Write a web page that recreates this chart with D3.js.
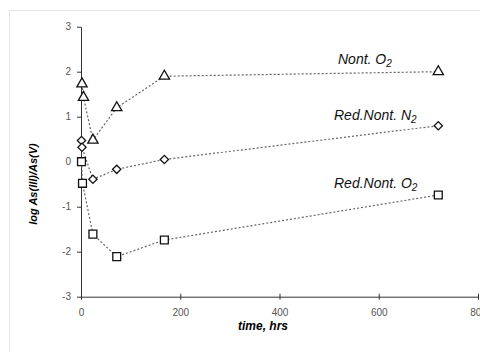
<!DOCTYPE html>
<html><head><meta charset="utf-8">
<script src="https://cdn.jsdelivr.net/npm/d3@7"></script>
<style>body{margin:0;background:#fff}svg{display:block}</style>
</head><body><svg id="c" width="480" height="352"></svg>
<script>
const xTicks = [0, 200, 400, 600, 800];
const yTicks = [-3, -2, -1, 0, 1, 2, 3];
const nontO2_t = [2, 5, 24, 72, 168, 720];
const nontO2_v = [1.73, 1.43, 0.48, 1.2, 1.9, 2.0];
const redN2_t = [1, 2, 24, 72, 168, 720];
const redN2_v = [0.47, 0.32, -0.39, -0.17, 0.05, 0.8];
const redO2_t = [1, 3, 24, 72, 168, 720];
const redO2_v = [0.0, -0.48, -1.61, -2.11, -1.74, -0.74];
const seriesNames = ["Nont. O", "Red.Nont. N", "Red.Nont. O"];
const seriesSubs = ["2", "2", "2"];

const svg = d3.select("#c");
const x = d3.scaleLinear().domain([0, 800]).range([81, 478]);
const y = d3.scaleLinear().domain([-3, 3]).range([296.7, 26.7]);

// frame
svg.append("path").attr("d", "M9.5,352 L9.5,10.5 L480,10.5").attr("fill", "none").attr("stroke", "#e4e4e4").attr("stroke-width", 1);

// axes
const gx = svg.append("g").attr("transform", `translate(0,${y(-3)})`)
  .call(d3.axisBottom(x).tickValues(xTicks).tickFormat(d => String(d)).tickSize(0).tickPadding(12));
gx.select(".domain").attr("stroke", "#333");
gx.selectAll(".tick").append("line").attr("y1", -3).attr("y2", 3).attr("stroke", "#333");
gx.selectAll("text").attr("font-family", "Liberation Sans, Arial, sans-serif").attr("font-size", 10).attr("fill", "#555");

const gy = svg.append("g").attr("transform", `translate(${x(0)},0)`)
  .call(d3.axisLeft(y).tickValues(yTicks).tickFormat(d => String(d)).tickSize(4).tickSizeOuter(0).tickPadding(6));
gy.select(".domain").attr("stroke", "#333");
gy.selectAll(".tick line").attr("stroke", "#333");
gy.selectAll("text").attr("font-family", "Liberation Sans, Arial, sans-serif").attr("font-size", 10).attr("fill", "#555");

// titles
svg.append("text").attr("x", 263).attr("y", 330).attr("text-anchor", "middle")
  .attr("font-family", "Liberation Sans, Arial, sans-serif").attr("font-size", 12).attr("font-weight", "bold").attr("font-style", "italic")
  .text("time, hrs");
svg.append("text").attr("transform", "translate(37,184) rotate(-90)").attr("text-anchor", "middle")
  .attr("font-family", "Liberation Sans, Arial, sans-serif").attr("font-size", 11).attr("font-weight", "bold").attr("font-style", "italic")
  .text("log As(III)/As(V)");

const series = [
  {t: nontO2_t, v: nontO2_v, sym: d3.symbolTriangle, size: 46, rot: 0},
  {t: redN2_t, v: redN2_v, sym: d3.symbolSquare, size: 34, rot: 45},
  {t: redO2_t, v: redO2_v, sym: d3.symbolSquare, size: 62, rot: 0}
];
const line = d3.line().x(d => x(d[0])).y(d => y(d[1]));
series.forEach(s => {
  const pts = s.t.map((t, i) => [t, s.v[i]]);
  svg.append("path").attr("d", line(pts)).attr("fill", "none").attr("stroke", "#666")
    .attr("stroke-width", 1.2).attr("stroke-dasharray", "2,2");
});
series.forEach(s => {
  const pts = s.t.map((t, i) => [t, s.v[i]]);
  svg.selectAll(null).data(pts).enter().append("path")
    .attr("d", d3.symbol().type(s.sym).size(s.size))
    .attr("transform", d => `translate(${x(d[0])},${y(d[1])}) rotate(${s.rot})`)
    .attr("fill", "#fff").attr("stroke", "#111").attr("stroke-width", 1.3);
});

// annotations
const ann = [[338, 64], [334, 120], [334, 188]];
seriesNames.forEach((n, i) => {
  const t = svg.append("text").attr("x", ann[i][0]).attr("y", ann[i][1])
    .attr("font-family", "Liberation Sans, Arial, sans-serif").attr("font-size", 14).attr("font-style", "italic").attr("fill", "#111");
  t.append("tspan").text(n);
  t.append("tspan").attr("dy", 3).attr("font-size", 10).text(seriesSubs[i]);
});
</script></body></html>
